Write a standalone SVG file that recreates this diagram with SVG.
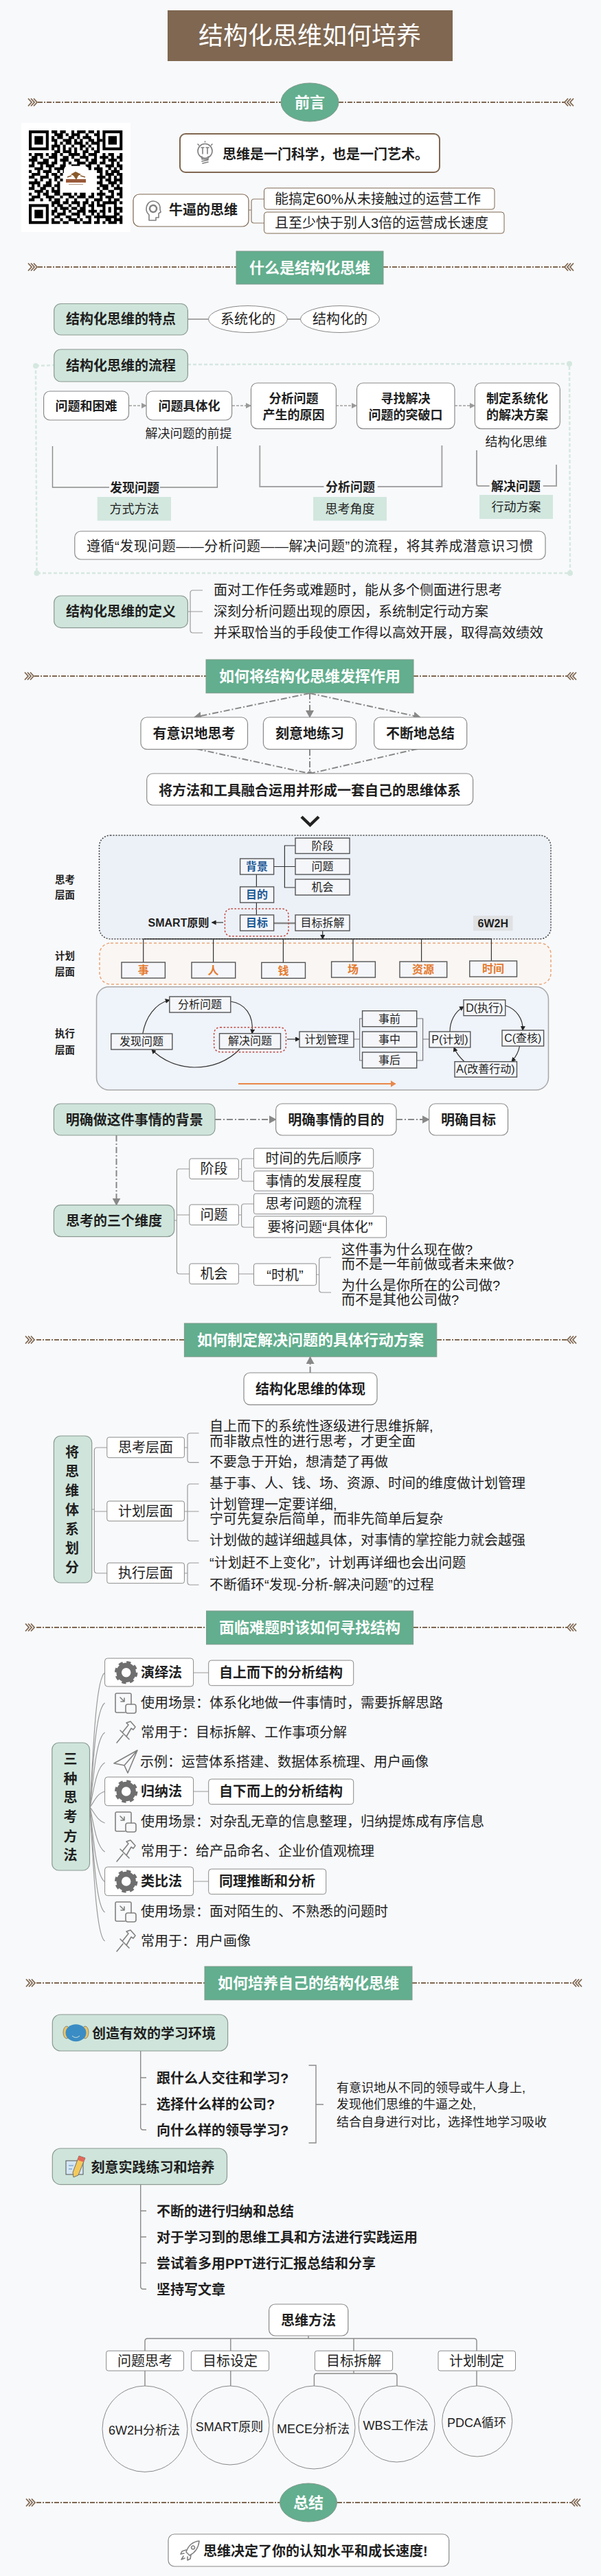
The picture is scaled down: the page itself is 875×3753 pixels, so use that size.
<svg xmlns="http://www.w3.org/2000/svg" xmlns:xlink="http://www.w3.org/1999/xlink" width="875" height="3753" viewBox="0 0 875 3753">
<style>
text{font-family:"Liberation Sans","Noto Sans CJK SC",sans-serif;fill:#1f1f1f;font-size:20px}
.m{text-anchor:middle}.b{font-weight:700}.s18{font-size:18px}.s16{font-size:16px}.s14{font-size:14.5px}.s22{font-size:22px}
.wt{fill:#fff}.blue{fill:#1f5a96}.or{fill:#e57a2e}
.w{fill:#fff;stroke:#8a8a8a;stroke-width:1.2;rx:9px}
.g{fill:#cfe5db;stroke:#8a9a92;stroke-width:1.2;rx:10px}
.h{fill:#62ae8e;stroke:#7f9a8c;stroke-width:1}
.n{fill:#fff;stroke:#8a8a8a;stroke-width:1;rx:3px}
.p{fill:#f4f6fa;stroke:#555;stroke-width:1.4}
.tag{fill:#d2e7de}
.c{fill:none;stroke:#9a9a9a;stroke-width:1.2}
.c2{fill:none;stroke:#8a8a8a;stroke-width:1.4}
.dk{fill:none;stroke:#333;stroke-width:1.2}
.ln{fill:none;stroke:#7f6751;stroke-width:2;stroke-dasharray:7 2 2 2}
.ft{fill:none;stroke:#7f6751;stroke-width:1.8}
.da{fill:none;stroke:#888;stroke-width:2;stroke-dasharray:9 3 2 3}
.fd{fill:none;stroke:#a0a0a0;stroke-width:1.4;stroke-dasharray:4 2}
.ic{fill:none;stroke:#808080;stroke-width:1.6;stroke-linecap:round;stroke-linejoin:round}
.el{fill:#f8f9fb;stroke:#888;stroke-width:1}
.rd{fill:none;stroke:#c0463c;stroke-width:1.5;stroke-dasharray:2.5 2.5;rx:9px}
</style>
<defs>
<marker id="ah" markerUnits="userSpaceOnUse" markerWidth="12" markerHeight="12" refX="10" refY="6" orient="auto"><path d="M0 0L11 6L0 12Z" fill="#888"/></marker>
<marker id="af" markerUnits="userSpaceOnUse" markerWidth="8" markerHeight="8" refX="7" refY="4" orient="auto"><path d="M0 0L8 4L0 8Z" fill="#999"/></marker>
<marker id="as" markerUnits="userSpaceOnUse" markerWidth="7" markerHeight="7" refX="6" refY="3.5" orient="auto"><path d="M0 0L7 3.5L0 7Z" fill="#222"/></marker>
<marker id="ao" markerUnits="userSpaceOnUse" markerWidth="8" markerHeight="10" refX="7" refY="5" orient="auto"><path d="M0 0L8 5L0 10Z" fill="#e9874a"/></marker>
<g id="fl"><path class="ft" d="M0 -5.5L5 0L0 5.5M4 -5.5L9 0L4 5.5M8 -5.5L13 0L8 5.5"/></g>
<g id="fr"><path class="ft" d="M13 -5.5L8 0L13 5.5M9 -5.5L4 0L9 5.5M5 -5.5L0 0L5 5.5"/></g>
<g id="gear"><circle r="10.5" fill="none" stroke="#6f6f6f" stroke-width="7.5"/><circle r="14.5" fill="none" stroke="#6f6f6f" stroke-width="4.5" stroke-dasharray="6 5.4"/></g>
<g id="boxi" class="ic"><path d="M23 16V2Q23 0 21 0H2Q0 0 0 2V26Q0 28 2 28H14"/><rect x="15" y="16" width="15" height="13" rx="3"/><path d="M7 6L13 12M8 12H13V7"/></g>
<g id="pin" class="ic"><path d="M0 31L9 20M5 13L18 26M9 15L17 5L14 2L20 0L27 8L24 12L21 10L14 22"/></g>
<g id="plane" class="ic"><path d="M34 0L0 19L15 22L20 33ZM34 0L15 22"/></g>
</defs>
<rect width="875" height="3753" fill="#f8f9fb"/>

<g id="panels">
<rect x="144.5" y="1217" width="657.5" height="151" rx="16" fill="#ecf1f8" stroke="#444" stroke-width="1.5" stroke-dasharray="2 2"/>
<rect x="145" y="1374" width="657" height="60" rx="16" fill="#faf6f3" stroke="#e9a678" stroke-width="1.5" stroke-dasharray="4 3"/>
<rect x="140.5" y="1437.7" width="658" height="150.3" rx="18" fill="#eff3fa" stroke="#a8a8a8" stroke-width="1.5"/>
<path d="M52 533L79 532M273 531L829 530L830 835L53.5 835L52 533" fill="none" stroke="#d5e8e0" stroke-width="2.5" stroke-dasharray="5 3"/>
<g fill="#d5e8e0"><circle cx="52" cy="533" r="4"/><circle cx="829" cy="530" r="4"/><circle cx="830" cy="835" r="4"/><circle cx="53.5" cy="835" r="4"/></g>
</g>

<g id="connectors">
<g id="section-lines">
<path class="ln" d="M55 149H409M493 149H822"/><use href="#fl" x="41" y="149"/><use href="#fr" x="822" y="149"/>
<path class="ln" d="M55 389H344M558 389H822"/><use href="#fl" x="41" y="389"/><use href="#fr" x="822" y="389"/>
<path class="ln" d="M50 985H300M602 985H826"/><use href="#fl" x="36" y="985"/><use href="#fr" x="826" y="985"/>
<path class="ln" d="M53 1952H268M636 1952H826"/><use href="#fl" x="37" y="1952"/><use href="#fr" x="826" y="1952"/>
<path class="ln" d="M53 2371H300M602 2371H826"/><use href="#fl" x="37" y="2371"/><use href="#fr" x="826" y="2371"/>
<path class="ln" d="M53 2889H298M600 2889H834"/><use href="#fl" x="38" y="2889"/><use href="#fr" x="834" y="2889"/>
<path class="ln" d="M53 3646H407M491 3646H832"/><use href="#fl" x="38" y="3646"/><use href="#fr" x="832" y="3646"/>
</g>
<path class="c" stroke="#7f6751" style="stroke:#8d7a68" d="M362 306H366M384 290H370Q366 290 366 294V321Q366 325 370 325H384"/>
<path class="c2" d="M273 465H304M418 465H438"/>
<path class="fd" marker-end="url(#af)" d="M188 591H213"/><path class="fd" marker-end="url(#af)" d="M338 591H365"/><path class="fd" marker-end="url(#af)" d="M489 591H519"/><path class="fd" marker-end="url(#af)" d="M662 591H691"/>
<path class="c2" d="M76.500 650V710H159M233 710H316.400V650"/>
<path class="c2" style="stroke-width:2;stroke:#a5a5a5" d="M378.300 649V709H471.500M549.700 709H643.400V649"/>
<path class="c2" style="stroke-width:2;stroke:#a5a5a5" d="M694 656V705Q694 708 697 708H712.600M790.700 708H810V677"/>
<path class="c" d="M273 891H277M295 860H281Q277 860 277 864V918Q277 922 281 922H295M277 891H295"/>
<path class="da" marker-end="url(#ah)" d="M451 1010L283 1045"/><path class="da" marker-end="url(#ah)" d="M451 1010V1045"/><path class="da" marker-end="url(#ah)" d="M451 1010L612 1045"/>
<path class="da" d="M286 1091L451 1127M451 1092V1127M608 1091L451 1127"/><circle cx="451" cy="1127" r="3.500" fill="#888"/>
<path d="M439 1190L451.500 1202L464 1190" fill="none" stroke="#222" stroke-width="4.500"/>
<path class="dk" d="M398.600 1262.500H430M430 1232H414.400V1293H430M373.400 1274V1292M373.400 1315V1333"/>
<path d="M398.600 1345H430" stroke="#888" stroke-width="2.500"/>
<path class="dk" marker-end="url(#as)" d="M325 1344H308.600"/><path class="dk" marker-end="url(#as)" d="M469.700 1356V1368"/>
<path d="M208.700 1368H715.400" stroke="#333" stroke-width="1.500"/>
<path class="dk" d="M208.700 1368V1402M310.600 1368V1402M412.400 1368V1402M514 1368V1401M613.600 1368V1401M715.400 1368V1400"/>
<path class="dk" marker-end="url(#as)" d="M207.800 1506C212 1482 226 1462 246.800 1457"/>
<path class="dk" marker-end="url(#as)" d="M335.800 1459C356 1462 370 1478 367 1505.700"/>
<path class="dk" marker-end="url(#as)" d="M349.600 1528C330 1548 305 1555 283 1555C260 1555 236 1545 221 1529"/>
<path class="dk" marker-end="url(#as)" d="M418 1514H436"/>
<path class="c" style="stroke:#777" d="M515 1514H523.600M527.600 1484H523.600V1545H527.600M606.700 1484H615.600V1545H606.700M615.600 1514H625"/>
<path class="dk" marker-end="url(#as)" d="M655 1503C655 1488 662 1474 675 1466.700"/>
<path class="dk" marker-end="url(#as)" d="M735.700 1465C752 1470 762 1485 761 1501"/>
<path class="dk" marker-end="url(#as)" d="M756.500 1524C755 1533 750 1541 745 1546.700"/>
<path class="dk" marker-end="url(#as)" d="M676 1546.700C670 1541 664 1534 661 1526"/>
<path fill="none" stroke="#e9874a" stroke-width="2" marker-end="url(#ao)" d="M347 1579H575.500"/>
<path class="da" marker-end="url(#ah)" d="M313 1631H401.600"/><path class="da" marker-end="url(#ah)" d="M577 1631H624.700"/><path class="da" marker-end="url(#ah)" d="M169.500 1654V1755.700"/>
<path class="c" d="M253.700 1778H257.400M275.800 1703H261.400Q257.400 1703 257.400 1707V1852Q257.400 1856 261.400 1856H275.800M257.400 1770H275.800"/>
<path class="c" d="M347.400 1703H351.600M369.500 1688H355.600Q351.600 1688 351.600 1692V1717Q351.600 1721 355.600 1721H369.500"/>
<path class="c" d="M347.400 1770H351.600M369.500 1754H355.600Q351.600 1754 351.600 1758V1784Q351.600 1788 355.600 1788H369.500"/>
<path class="c" d="M347.400 1856H369.500M460.500 1857H464.700M482 1832H468.700Q464.700 1832 464.700 1836V1879Q464.700 1883 468.700 1883H482"/>
<path class="da" marker-end="url(#ah)" d="M451.600 2000V1977"/>
<path class="c" d="M133.700 2199H137.400M155.800 2109H141.400Q137.400 2109 137.400 2113V2288Q137.400 2292 141.400 2292H155.800M137.400 2202H155.800"/>
<path class="c" d="M268.400 2109H273M289.500 2088H277Q273 2088 273 2092V2126.700Q273 2130.700 277 2130.700H289.500"/>
<path class="c" d="M268.400 2202H289.500M289.500 2162H277Q273 2162 273 2166V2241Q273 2245 277 2245H289.500"/>
<path class="c" d="M268.400 2292H273M289.500 2277H277Q273 2277 273 2281V2305Q273 2309 277 2309H289.500"/>
<g class="c">
<path d="M131 2633C136 2540 140 2445 152.600 2437"/><path d="M131 2633C136 2560 140 2490 152.600 2481"/><path d="M131 2633C136 2590 140 2532 152.600 2524"/><path d="M131 2633C136 2610 140 2575 152.600 2568"/><path d="M131 2633C137 2625 141 2613 152.600 2610"/><path d="M131 2633C137 2640 141 2652 152.600 2656"/><path d="M131 2633C136 2655 140 2690 152.600 2698"/><path d="M131 2633C136 2680 140 2733 152.600 2741.700"/><path d="M131 2633C136 2700 140 2778 152.600 2786"/><path d="M131 2633C136 2720 140 2820 152.600 2828"/>
</g>
<path class="c" d="M281.600 2437H303.700M281.600 2610H303.700M281.600 2741H303.700"/>
<path class="c2" d="M204.700 2988V3099Q204.700 3103 208.700 3103H213M204.700 3027H213M204.700 3066H213"/>
<path class="c2" d="M449.500 3009H460V3122H449.500M460 3066H471"/>
<path class="c2" d="M204.700 3183V3331Q204.700 3335 208.700 3335H213M204.700 3221H213M204.700 3259H213M204.700 3297H213"/>
<path class="c2" d="M449 3403V3407M211 3425V3411Q211 3407 215 3407H690Q694 3407 694 3411V3425M335.800 3407V3425M515 3407V3425"/>
<path class="c2" d="M211 3454V3476M335.800 3454V3476M694 3454V3476M515 3454V3458M457.400 3476V3462Q457.400 3458 461.400 3458H574Q578 3458 578 3462V3476"/>
</g>

<g id="title"><rect x="244" y="15" width="415" height="74" fill="#7f6751"/><text class="m wt" x="451" y="65" style="font-size:36px">结构化思维如何培养</text></g>
<g id="sec-preface"><ellipse cx="451" cy="149" rx="42" ry="28" class="h"/><text class="m wt s22 b" x="451" y="157">前言</text></g>
<g id="qr"><rect x="31" y="179" width="159" height="159" fill="#fff"/>
<g transform="translate(42 190) scale(4.13)"><path fill="none" stroke="#000" stroke-width="1" d="M8 .5h2M11 .5h2M15 .5h1M17 .5h3M21 .5h2M24 .5h1M9 1.500h3M13 1.500h1M15 1.500h3M20 1.500h1M23 1.500h2M8 2.500h1M10 2.500h2M14 2.500h2M17 2.500h1M19 2.500h3M24 2.500h1M8 3.500h2M12 3.500h3M16 3.500h1M18 3.500h1M21 3.500h2M24 3.500h2M9 4.500h1M11 4.500h1M13 4.500h2M16 4.500h3M20 4.500h1M22 4.500h3M8 5.500h3M12 5.500h1M15 5.500h1M18 5.500h2M21 5.500h1M24 5.500h1M8 6.500h1M10 6.500h1M12 6.500h1M14 6.500h1M16 6.500h1M18 6.500h1M20 6.500h1M22 6.500h1M24 6.500h1M9 7.500h2M12 7.500h3M16 7.500h1M19 7.500h2M23 7.500h2M0 8.500h1M2 8.500h3M6 8.500h1M8 8.500h2M11 8.500h1M14 8.500h4M19 8.500h1M21 8.500h3M26 8.500h1M28 8.500h2M32 8.500h1M1 9.500h2M4 9.500h1M7 9.500h3M12 9.500h2M15 9.500h1M18 9.500h3M23 9.500h1M25 9.500h3M29 9.500h1M31 9.500h2M0 10.500h3M5 10.500h2M9 10.500h1M11 10.500h3M16 10.500h2M20 10.500h1M22 10.500h2M26 10.500h1M28 10.500h3M32 10.500h1M1 11.500h1M3 11.500h4M8 11.500h2M12 11.500h1M14 11.500h1M17 11.500h3M21 11.500h3M25 11.500h2M29 11.500h1M31 11.500h1M0 12.500h2M4 12.500h1M6 12.500h3M11 12.500h2M15 12.500h3M20 12.500h2M24 12.500h1M27 12.500h3M31 12.500h2M2 13.500h3M7 13.500h1M9 13.500h4M14 13.500h1M18 13.500h1M21 13.500h1M23 13.500h3M28 13.500h1M30 13.500h1M32 13.500h1M0 14.500h1M3 14.500h1M5 14.500h3M10 14.500h1M12 14.500h2M24 14.500h2M27 14.500h1M29 14.500h3M1 15.500h3M6 15.500h1M8 15.500h2M11 15.500h1M25 15.500h1M27 15.500h3M31 15.500h2M0 16.500h2M4 16.500h3M9 16.500h2M24 16.500h3M28 16.500h1M30 16.500h1M32 16.500h1M2 17.500h1M4 17.500h1M7 17.500h1M9 17.500h1M11 17.500h1M25 17.500h1M27 17.500h2M30 17.500h3M0 18.500h4M6 18.500h2M10 18.500h1M24 18.500h2M28 18.500h3M32 18.500h1M1 19.500h1M3 19.500h1M5 19.500h3M9 19.500h2M25 19.500h3M29 19.500h1M31 19.500h1M0 20.500h2M4 20.500h2M8 20.500h1M10 20.500h1M24 20.500h1M26 20.500h2M30 20.500h3M2 21.500h3M6 21.500h1M8 21.500h3M25 21.500h1M28 21.500h2M32 21.500h1M0 22.500h1M3 22.500h1M5 22.500h2M9 22.500h2M12 22.500h3M16 22.500h1M18 22.500h2M22 22.500h1M24 22.500h3M29 22.500h1M31 22.500h2M1 23.500h3M6 23.500h3M11 23.500h1M14 23.500h2M17 23.500h3M21 23.500h2M25 23.500h1M27 23.500h3M32 23.500h1M0 24.500h2M4 24.500h1M7 24.500h1M9 24.500h2M13 24.500h1M16 24.500h1M20 24.500h1M23 24.500h3M28 24.500h1M30 24.500h2M8 25.500h3M12 25.500h2M15 25.500h3M19 25.500h2M22 25.500h1M24 25.500h1M26 25.500h5M32 25.500h1M8 26.500h1M10 26.500h2M14 26.500h1M17 26.500h1M19 26.500h1M21 26.500h2M24 26.500h3M30 26.500h1M9 27.500h1M11 27.500h3M15 27.500h2M18 27.500h2M22 27.500h1M26 27.500h1M28 27.500h1M30 27.500h3M8 28.500h2M12 28.500h1M14 28.500h1M17 28.500h3M21 28.500h3M25 28.500h2M28 28.500h1M30 28.500h1M32 28.500h1M8 29.500h1M10 29.500h3M15 29.500h3M19 29.500h1M22 29.500h1M24 29.500h1M26 29.500h1M30 29.500h2M9 30.500h2M13 30.500h2M17 30.500h1M20 30.500h2M23 30.500h3M26 30.500h5M32 30.500h1M8 31.500h1M11 31.500h1M14 31.500h3M18 31.500h1M21 31.500h1M24 31.500h1M27 31.500h2M30 31.500h3M8 32.500h3M12 32.500h2M16 32.500h2M19 32.500h3M23 32.500h2M26 32.500h1M28 32.500h3M32 32.500h1"/>
<g fill="none" stroke="#000"><rect x=".5" y=".5" width="6" height="6"/><rect x="26.500" y=".5" width="6" height="6"/><rect x=".5" y="26.500" width="6" height="6"/></g>
<g fill="#000"><rect x="2" y="2" width="3" height="3"/><rect x="28" y="2" width="3" height="3"/><rect x="2" y="28" width="3" height="3"/></g></g>
<rect x="93" y="241.700" width="35.700" height="35" rx="6" fill="#fff"/>
<path d="M103 254L110 250L118 254L114 256L111 262L107 256Z" fill="#8a5a2a"/><path d="M98 258L104 256M117 256L124 258" stroke="#8a5a2a" stroke-width="1.500"/>
<rect x="96" y="261" width="29" height="5" fill="#9a5a3a"/><rect x="100" y="268" width="21" height="1.200" fill="#b9a08a"/></g>
<g id="n-art"><rect x="262" y="195" width="378" height="56" rx="8" fill="#fff" stroke="#7f6751" stroke-width="2"/>
<g class="ic" transform="translate(287 207)"><circle cx="11.500" cy="13" r="10.500"/><path d="M7 21V25H16V21M7 28L16 26M8 31L16 29M8 8V17M15 8V17M6 8H10M13 8H17M11.500 -1V0M1 3L2.500 4.500M22 3L20.500 4.500"/></g>
<text class="b" x="324" y="232">思维是一门科学，也是一门艺术。</text></g>
<g id="n-niubi"><rect x="194" y="283" width="168" height="47" rx="9" fill="#fff" stroke="#7f6751" stroke-width="1.200"/>
<g class="ic" transform="translate(213 293)"><path d="M20 12C21 3 14 0 10 0C4 0 0 5 0 12C0 16 2 18 4 20V28H14V24H18V18L21 16Z"/><circle cx="10" cy="11" r="5" stroke-dasharray="2 1.500" stroke-width="2.500"/></g>
<text class="b" x="246" y="313">牛逼的思维</text></g>
<g id="n-n1"><rect x="384.500" y="274" width="335.500" height="31" rx="4" fill="#fff" stroke="#7f6751" stroke-width="1"/><text x="400" y="297">能搞定60%从未接触过的运营工作</text></g>
<g id="n-n2"><rect x="384.500" y="309" width="349.500" height="31" rx="4" fill="#fff" stroke="#7f6751" stroke-width="1"/><text x="400" y="332">且至少快于别人3倍的运营成长速度</text></g>

<g id="sec-what"><rect x="344" y="366" width="214" height="48" class="h"/><text class="m wt s22 b" x="451" y="398">什么是结构化思维</text></g>
<g id="n-feature"><rect x="78.700" y="442.500" width="194.700" height="45.500" class="g"/><text class="m b" x="176" y="472">结构化思维的特点</text></g>
<g id="n-sys"><ellipse cx="361" cy="465" rx="57.500" ry="19.500" fill="#fff" stroke="#888"/><text class="m" x="361" y="472">系统化的</text></g>
<g id="n-str"><ellipse cx="495" cy="465" rx="57.500" ry="19.500" fill="#fff" stroke="#888"/><text class="m" x="495" y="472">结构化的</text></g>
<g id="n-flow"><rect x="78.700" y="509" width="194.700" height="47" class="g"/><text class="m b" x="176" y="540">结构化思维的流程</text></g>
<g id="n-f1"><rect x="63.600" y="570" width="123.900" height="42" class="w"/><text class="m s18 b" x="125.500" y="598">问题和困难</text></g>
<g id="n-f2"><rect x="213" y="570" width="124.600" height="42" class="w"/><text class="m s18 b" x="275.500" y="598">问题具体化</text></g>
<g id="n-f3"><rect x="365.500" y="558" width="123.900" height="66.600" class="w"/><text class="m s18 b" x="427.500" y="587">分析问题</text><text class="m s18 b" x="427.500" y="611">产生的原因</text></g>
<g id="n-f4"><rect x="519.500" y="558" width="142.500" height="66.600" class="w"/><text class="m s18 b" x="590.500" y="587">寻找解决</text><text class="m s18 b" x="590.500" y="611">问题的突破口</text></g>
<g id="n-f5"><rect x="691.400" y="558" width="123.900" height="66.600" class="w"/><text class="m s18 b" x="753" y="587">制定系统化</text><text class="m s18 b" x="753" y="611">的解决方案</text></g>
<text class="m s18" x="274.500" y="638">解决问题的前提</text>
<text class="m s18" x="751.600" y="650">结构化思维</text>
<text class="m s18 b" x="196" y="717">发现问题</text>
<g id="n-t1"><rect x="141.700" y="724" width="107.300" height="34.600" class="tag"/><text class="m s18" x="195.500" y="748">方式方法</text></g>
<text class="m s18 b" x="510" y="716">分析问题</text>
<g id="n-t2"><rect x="456" y="724" width="107" height="34.600" class="tag"/><text class="m s18" x="509.500" y="748">思考角度</text></g>
<text class="m s18 b" x="751" y="715">解决问题</text>
<g id="n-t3"><rect x="698" y="721" width="107" height="35" class="tag"/><text class="m s18" x="751.500" y="745">行动方案</text></g>
<g id="n-follow"><rect x="108.800" y="774" width="685.200" height="41" class="w"/><text class="m" x="451" y="803" textLength="650">遵循“发现问题——分析问题——解决问题”的流程，将其养成潜意识习惯</text></g>
<g id="n-def"><rect x="78.700" y="868" width="194.700" height="46.600" class="g"/><text class="m b" x="176" y="898">结构化思维的定义</text></g>
<text x="311" y="867">面对工作任务或难题时，能从多个侧面进行思考</text>
<text x="311" y="898">深刻分析问题出现的原因，系统制定行动方案</text>
<text x="311" y="929">并采取恰当的手段使工作得以高效开展，取得高效绩效</text>

<g id="sec-use"><rect x="300" y="961" width="302" height="48.700" class="h"/><text class="m wt s22 b" x="451" y="993">如何将结构化思维发挥作用</text></g>
<g id="n-u1"><rect x="205" y="1045" width="155.500" height="46.700" class="w"/><text class="m b" x="282.500" y="1076">有意识地思考</text></g>
<g id="n-u2"><rect x="383.400" y="1045" width="135" height="46.700" class="w"/><text class="m b" x="451" y="1076">刻意地练习</text></g>
<g id="n-u3"><rect x="544.600" y="1045" width="135.100" height="46.700" class="w"/><text class="m b" x="612" y="1076">不断地总结</text></g>
<g id="n-u4"><rect x="213.700" y="1127" width="474.900" height="46" class="w"/><text class="m b" x="451" y="1159">将方法和工具融合运用并形成一套自己的思维体系</text></g>

<g id="plan-labels" class="b"><text class="m s14 b" x="94.500" y="1287">思考</text><text class="m s14 b" x="94.500" y="1309">层面</text><text class="m s14 b" x="94.500" y="1398">计划</text><text class="m s14 b" x="94.500" y="1421">层面</text><text class="m s14 b" x="94.500" y="1511">执行</text><text class="m s14 b" x="94.500" y="1535">层面</text></g>
<g id="p-jd"><rect x="430" y="1221" width="79" height="22.500" class="p"/><text class="m s16" x="469.500" y="1238">阶段</text></g>
<g id="p-wt"><rect x="430" y="1251" width="79" height="23" class="p"/><text class="m s16" x="469.500" y="1268">问题</text></g>
<g id="p-jh"><rect x="430" y="1281" width="79" height="23" class="p"/><text class="m s16" x="469.500" y="1298">机会</text></g>
<g id="p-bj"><rect x="349.600" y="1251" width="49" height="23" class="p"/><text class="m s16 b blue" x="374" y="1268">背景</text></g>
<g id="p-md"><rect x="349.600" y="1292" width="49" height="23" class="p"/><text class="m s16 b blue" x="374" y="1309">目的</text></g>
<g id="p-mb"><rect x="349.600" y="1333" width="49" height="23" class="p"/><text class="m s16 b blue" x="374" y="1350">目标</text></g>
<g id="p-cj"><rect x="430" y="1333" width="79" height="23" class="p"/><text class="m s16" x="469.500" y="1350">目标拆解</text></g>
<rect class="rd" x="327.400" y="1324" width="92.600" height="40"/>
<text class="m s16 b" x="260" y="1350">SMART原则</text>
<g id="p-6w"><rect x="689" y="1334" width="57.600" height="22" fill="#e0e1e3"/><text class="m s16 b" x="717.800" y="1351">6W2H</text></g>
<g id="p-o1"><rect x="177" y="1402" width="63.400" height="23" class="p"/><text class="m s16 b or" x="208.700" y="1419">事</text></g>
<g id="p-o2"><rect x="279" y="1402" width="63.700" height="23" class="p"/><text class="m s16 b or" x="310.600" y="1419">人</text></g>
<g id="p-o3"><rect x="380.800" y="1402.300" width="63.700" height="23" class="p"/><text class="m s16 b or" x="412.400" y="1420">钱</text></g>
<g id="p-o4"><rect x="482.600" y="1401" width="63.800" height="23" class="p"/><text class="m s16 b or" x="514" y="1418">场</text></g>
<g id="p-o5"><rect x="582" y="1401" width="68.700" height="23" class="p"/><text class="m s16 b or" x="616" y="1418">资源</text></g>
<g id="p-o6"><rect x="683.800" y="1400" width="68.700" height="23" class="p"/><text class="m s16 b or" x="718" y="1417">时间</text></g>
<g id="p-fx"><rect x="161.800" y="1506" width="89" height="23" class="p"/><text class="m s16" x="206" y="1523">发现问题</text></g>
<g id="p-fe"><rect x="246.800" y="1452" width="89" height="23" class="p"/><text class="m s16" x="291" y="1469">分析问题</text></g>
<g id="p-js"><rect x="319.500" y="1505.700" width="89" height="22.500" class="p"/><text class="m s16" x="364" y="1522">解决问题</text></g>
<rect class="rd" x="311.600" y="1496.700" width="104.800" height="36"/>
<g id="p-plan"><rect x="436" y="1503" width="79" height="22.700" class="p"/><text class="m s16" x="475.500" y="1520">计划管理</text></g>
<g id="p-q"><rect x="527.600" y="1472.700" width="79.100" height="23" class="p"/><text class="m s16" x="567" y="1490">事前</text></g>
<g id="p-z"><rect x="527.600" y="1503" width="79.100" height="22.700" class="p"/><text class="m s16" x="567" y="1520">事中</text></g>
<g id="p-h"><rect x="527.600" y="1533" width="79.100" height="23" class="p"/><text class="m s16" x="567" y="1550">事后</text></g>
<g id="p-P"><rect x="625" y="1503" width="59.800" height="23" class="p"/><text class="m s16" x="655" y="1520">P(计划)</text></g>
<g id="p-D"><rect x="675" y="1456.700" width="60.700" height="23" class="p"/><text class="m s16" x="705.300" y="1474">D(执行)</text></g>
<g id="p-C"><rect x="731" y="1501" width="60.600" height="23" class="p"/><text class="m s16" x="761.300" y="1518">C(查核)</text></g>
<g id="p-A"><rect x="662" y="1546.700" width="90.500" height="22.500" class="p"/><text class="m s16" x="707" y="1563">A(改善行动)</text></g>

<g id="n-bg"><rect x="78.400" y="1608" width="234.600" height="46" class="g"/><text class="m b" x="195.700" y="1639">明确做这件事情的背景</text></g>
<g id="n-goal"><rect x="401.600" y="1608" width="175.400" height="46" class="w"/><text class="m b" x="489.300" y="1639">明确事情的目的</text></g>
<g id="n-target"><rect x="624.700" y="1608" width="114.800" height="46" class="w"/><text class="m b" x="682" y="1639">明确目标</text></g>
<g id="n-3d"><rect x="78.400" y="1755.700" width="175.300" height="46" class="g"/><text class="m b" x="166" y="1786">思考的三个维度</text></g>
<g id="n-a1"><rect x="275.800" y="1688" width="71.600" height="29.700" class="n"/><text class="m" x="311.600" y="1710">阶段</text></g>
<g id="n-a2"><rect x="275.800" y="1755" width="71.600" height="29.700" class="n"/><text class="m" x="311.600" y="1777">问题</text></g>
<g id="n-a3"><rect x="275.800" y="1841" width="71.600" height="29.700" class="n"/><text class="m" x="311.600" y="1863">机会</text></g>
<g id="n-b1"><rect x="369.500" y="1673" width="174.200" height="29" class="n"/><text class="m" x="456.600" y="1695">时间的先后顺序</text></g>
<g id="n-b2"><rect x="369.500" y="1706" width="174.200" height="29" class="n"/><text class="m" x="456.600" y="1728">事情的发展程度</text></g>
<g id="n-b3"><rect x="369.500" y="1739" width="174.200" height="29.700" class="n"/><text class="m" x="456.600" y="1761">思考问题的流程</text></g>
<g id="n-b4"><rect x="369.500" y="1772" width="193.100" height="31" class="n"/><text class="m" x="466" y="1795">要将问题“具体化”</text></g>
<g id="n-b5"><rect x="369.500" y="1841" width="91" height="31.700" class="n"/><text class="m" x="415" y="1865">“时机”</text></g>
<text x="497" y="1828">这件事为什么现在做?</text><text x="497" y="1849">而不是一年前做或者未来做?</text>
<text x="497" y="1880">为什么是你所在的公司做?</text><text x="497" y="1901">而不是其他公司做?</text>

<g id="sec-action"><rect x="268.400" y="1928" width="367.400" height="48.700" class="h"/><text class="m wt s22 b" x="452" y="1960">如何制定解决问题的具体行动方案</text></g>
<g id="n-embody"><rect x="355" y="2000" width="194" height="46.700" class="w"/><text class="m b" x="452" y="2031">结构化思维的体现</text></g>
<g id="n-7"><rect x="78.400" y="2092" width="55.300" height="214" class="g"/><text class="m b" x="105" y="2123">将</text><text class="m b" x="105" y="2151">思</text><text class="m b" x="105" y="2179">维</text><text class="m b" x="105" y="2207">体</text><text class="m b" x="105" y="2235">系</text><text class="m b" x="105" y="2263">划</text><text class="m b" x="105" y="2291">分</text></g>
<g id="n-c1"><rect x="155.800" y="2094" width="112.600" height="29.700" class="n"/><text class="m" x="212" y="2116">思考层面</text></g>
<g id="n-c2"><rect x="155.800" y="2187" width="112.600" height="29" class="n"/><text class="m" x="212" y="2209">计划层面</text></g>
<g id="n-c3"><rect x="155.800" y="2277" width="112.600" height="29.700" class="n"/><text class="m" x="212" y="2299">执行层面</text></g>
<text x="305" y="2085">自上而下的系统性逐级进行思维拆解,</text><text x="305" y="2107">而非散点性的进行思考，才更全面</text>
<text x="305" y="2137">不要急于开始，想清楚了再做</text>
<text x="305" y="2168">基于事、人、钱、场、资源、时间的维度做计划管理</text>
<text x="305" y="2199">计划管理一定要详细,</text><text x="305" y="2220">宁可先复杂后简单，而非先简单后复杂</text>
<text x="305" y="2251">计划做的越详细越具体，对事情的掌控能力就会越强</text>
<text x="305" y="2284">“计划赶不上变化”，计划再详细也会出问题</text>
<text x="305" y="2316">不断循环“发现-分析-解决问题”的过程</text>

<g id="sec-struct"><rect x="300.500" y="2347" width="301.100" height="48.700" class="h"/><text class="m wt s22 b" x="451" y="2379">面临难题时该如何寻找结构</text></g>
<g id="n-3m"><rect x="75.800" y="2539" width="54.700" height="186" class="g"/><text class="m b" x="102.600" y="2570">三</text><text class="m b" x="102.600" y="2599">种</text><text class="m b" x="102.600" y="2626">思</text><text class="m b" x="102.600" y="2654">考</text><text class="m b" x="102.600" y="2683">方</text><text class="m b" x="102.600" y="2710">法</text></g>
<g id="m1"><rect x="152.600" y="2416" width="129" height="41" rx="4" fill="#fff" stroke="#8a8a8a"/><use href="#gear" x="183.700" y="2436.700"/><text class="b" x="205" y="2444">演绎法</text></g>
<g id="m1a"><rect x="303.700" y="2419" width="211" height="36.700" rx="4" fill="#fff" stroke="#8a8a8a"/><text class="m b" x="409" y="2444">自上而下的分析结构</text></g>
<g id="m1b"><use href="#boxi" x="168" y="2467"/><text x="205" y="2488">使用场景：体系化地做一件事情时，需要拆解思路</text></g>
<g id="m1c"><use href="#pin" x="170" y="2508"/><text x="205" y="2531">常用于：目标拆解、工作事项分解</text></g>
<g id="m1d"><use href="#plane" x="166" y="2550"/><text x="204" y="2574">示例：运营体系搭建、数据体系梳理、用户画像</text></g>
<g id="m2"><rect x="152.600" y="2589" width="129" height="41.700" rx="4" fill="#fff" stroke="#8a8a8a"/><use href="#gear" x="183.700" y="2610"/><text class="b" x="205" y="2617">归纳法</text></g>
<g id="m2a"><rect x="303.700" y="2592" width="211" height="36.700" rx="4" fill="#fff" stroke="#8a8a8a"/><text class="m b" x="409" y="2617">自下而上的分析结构</text></g>
<g id="m2b"><use href="#boxi" x="168" y="2640"/><text x="205" y="2661">使用场景：对杂乱无章的信息整理，归纳提炼成有序信息</text></g>
<g id="m2c"><use href="#pin" x="170" y="2681"/><text x="205" y="2704">常用于：给产品命名、企业价值观梳理</text></g>
<g id="m3"><rect x="152.600" y="2720" width="129" height="41.700" rx="4" fill="#fff" stroke="#8a8a8a"/><use href="#gear" x="183.700" y="2741"/><text class="b" x="205" y="2748">类比法</text></g>
<g id="m3a"><rect x="303.700" y="2723" width="171" height="36.700" rx="4" fill="#fff" stroke="#8a8a8a"/><text class="m b" x="389" y="2748">同理推断和分析</text></g>
<g id="m3b"><use href="#boxi" x="168" y="2771"/><text x="205" y="2792">使用场景：面对陌生的、不熟悉的问题时</text></g>
<g id="m3c"><use href="#pin" x="170" y="2812"/><text x="205" y="2835">常用于：用户画像</text></g>

<g id="sec-train"><rect x="298" y="2865" width="302" height="48.700" class="h"/><text class="m wt s22 b" x="449" y="2897">如何培养自己的结构化思维</text></g>
<g id="n-env"><rect x="76.300" y="2935" width="255.300" height="53" class="g" style="rx:12px"/>
<ellipse cx="97" cy="2961" rx="5" ry="9" fill="#e9c46a" stroke="#555" stroke-width=".6"/><ellipse cx="124" cy="2961" rx="5" ry="9" fill="#e9c46a" stroke="#555" stroke-width=".6"/><ellipse cx="110.500" cy="2961.700" rx="15" ry="12.500" fill="#3a8cc4"/><path d="M105 2966Q110.500 2971 116 2966" fill="none" stroke="#cfe5db"/>
<text class="b" x="134" y="2970">创造有效的学习环境</text></g>
<text class="b" x="228" y="3035">跟什么人交往和学习?</text><text class="b" x="228" y="3073">选择什么样的公司?</text><text class="b" x="228" y="3111">向什么样的领导学习?</text>
<text class="s18" x="490" y="3048">有意识地从不同的领导或牛人身上,</text><text class="s18" x="490" y="3072">发现他们思维的牛逼之处,</text><text class="s18" x="490" y="3098">结合自身进行对比，选择性地学习吸收</text>
<g id="n-prac"><rect x="76.300" y="3130" width="254.200" height="52.700" class="g" style="rx:12px"/>
<rect x="96" y="3148" width="25" height="20" fill="#d4e6f4" stroke="#555"/><path d="M100 3155H107M100 3160H105" stroke="#5b8fc0"/><path d="M115 3141L124 3144L114 3169L107 3172L106 3165Z" fill="#f3c95c" stroke="#555" stroke-width=".8"/><path d="M115 3141L124 3144L122 3150L113 3147Z" fill="#e2695a"/>
<text class="b" x="132.600" y="3165">刻意实践练习和培养</text></g>
<text class="b" x="228" y="3229">不断的进行归纳和总结</text><text class="b" x="228" y="3267">对于学习到的思维工具和方法进行实践运用</text><text class="b" x="228" y="3305">尝试着多用PPT进行汇报总结和分享</text><text class="b" x="228" y="3343">坚持写文章</text>
<g id="n-way"><rect x="391.600" y="3357" width="115.200" height="46" class="w"/><text class="m b" x="449" y="3388">思维方法</text></g>
<g id="n-w1"><rect x="154.700" y="3425" width="112.700" height="29" class="n"/><text class="m" x="211" y="3447">问题思考</text></g>
<g id="n-w2"><rect x="278.400" y="3425" width="113.200" height="29" class="n"/><text class="m" x="335" y="3447">目标设定</text></g>
<g id="n-w3"><rect x="458.400" y="3425" width="113.200" height="29" class="n"/><text class="m" x="515" y="3447">目标拆解</text></g>
<g id="n-w4"><rect x="638" y="3425" width="112.500" height="29" class="n"/><text class="m" x="694" y="3447">计划制定</text></g>
<g id="n-e1"><ellipse cx="211" cy="3538.700" rx="62" ry="62.700" class="el"/><text class="m s18" x="210" y="3547">6W2H分析法</text></g>
<g id="n-e2"><ellipse cx="335" cy="3533.500" rx="57" ry="57.500" class="el"/><text class="m s18" x="334" y="3542">SMART原则</text></g>
<g id="n-e3"><ellipse cx="457" cy="3536.500" rx="60" ry="60.500" class="el"/><text class="m s18" x="456" y="3545">MECE分析法</text></g>
<g id="n-e4"><ellipse cx="577.500" cy="3531.500" rx="55.500" ry="55.500" class="el"/><text class="m s18" x="576" y="3540">WBS工作法</text></g>
<g id="n-e5"><ellipse cx="694.700" cy="3527.500" rx="51" ry="51.500" class="el"/><text class="m s18" x="694" y="3536">PDCA循环</text></g>
<g id="sec-end"><ellipse cx="449" cy="3646" rx="41.500" ry="28" class="h"/><text class="m wt s22 b" x="449" y="3654">总结</text></g>
<g id="n-end"><rect x="245" y="3692" width="408.700" height="47" class="w"/>
<g class="ic" transform="translate(263 3702)"><path d="M27 0C18 1 11 7 8 16L13 21C21 17 26 10 27 0ZM8 13L2 15L0 19L5 18M15 20L14 26L10 28L10 23M4 22L1 27L6 25M18 7a2.500 2.500 0 1 0 .1 0"/></g>
<text class="b" x="296" y="3724">思维决定了你的认知水平和成长速度!</text></g>
</svg>
